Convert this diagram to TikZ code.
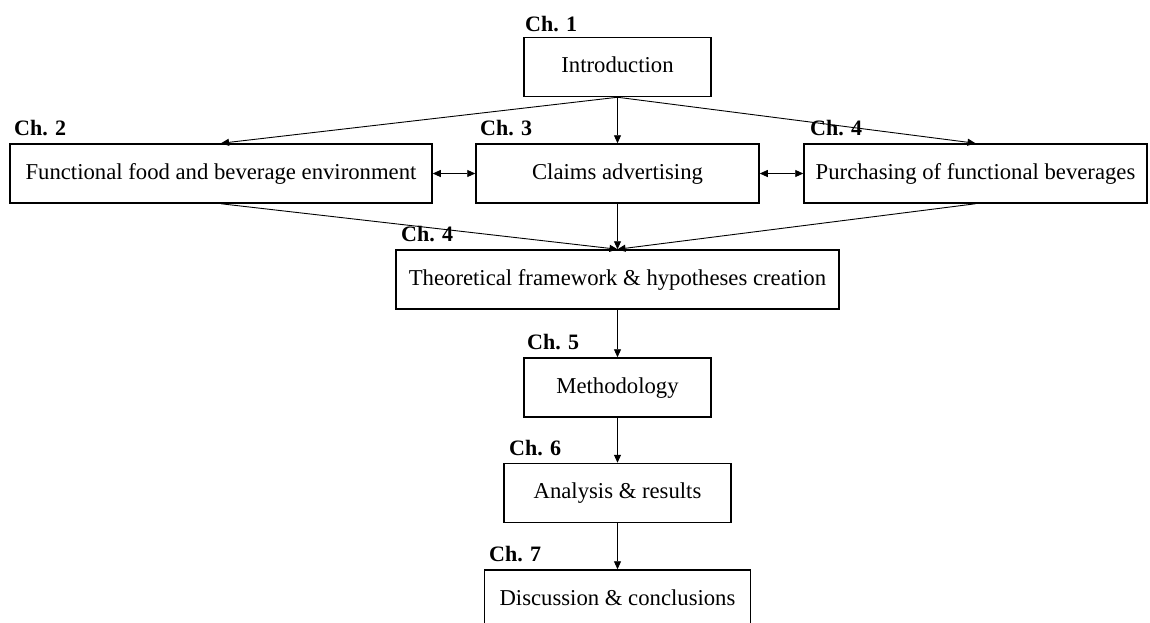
\documentclass[tikz,border=0pt]{standalone}
\usepackage{fontspec}
\setmainfont{Liberation Serif}
\usetikzlibrary{arrows.meta}
\tikzset{
  box/.style={draw=black, line width=1.5pt, fill=white, inner sep=0pt, minimum height=59pt,
    text height=16pt, text depth=5pt,
    font=\fontsize{22.7}{27}\selectfont, text=black},
  chlabel/.style={inner sep=0pt, anchor=base west, font=\fontsize{22}{26}\selectfont\bfseries},
  conn/.style={draw=black, line width=0.9pt, -{Triangle[length=8pt,width=7pt]}},
  dconn/.style={draw=black, line width=0.9pt, {Triangle[length=8pt,width=7pt]}-{Triangle[length=8pt,width=7pt]}}
}
\begin{document}
\begin{tikzpicture}[x=1pt,y=-1pt]
\useasboundingbox (0,0) rectangle (1150,622);
\clip (0,0) rectangle (1150,622);
\fill[white] (0,0) rectangle (1150,622);
% boxes
\node[box, minimum width=187pt] (intro) at (617.5,67) {Introduction};
\node[box, minimum width=422pt] (func) at (221,173.5) {Functional food and beverage environment};
\node[box, minimum width=283pt] (claims) at (617.5,173.5) {Claims advertising};
\node[box, minimum width=343pt] (purch) at (975.5,173.5) {Purchasing of functional beverages};
\node[box, minimum width=443pt] (theo) at (617.5,279.5) {Theoretical framework \& hypotheses creation};
\node[box, minimum width=187pt] (meth) at (617.5,387.5) {Methodology};
\node[box, minimum width=227pt] (anal) at (617.5,493) {Analysis \& results};
\node[box, minimum width=266pt] (disc) at (617.5,599.5) {Discussion \& conclusions};
% connectors
\draw[conn] (intro.south) -- (func.north);
\draw[conn] (intro.south) -- (claims.north);
\draw[conn] (intro.south) -- (purch.north);
\draw[conn] (func.south) -- (theo.north);
\draw[conn] (claims.south) -- (theo.north);
\draw[conn] (purch.south) -- (theo.north);
\draw[dconn] (func.east) -- (claims.west);
\draw[dconn] (claims.east) -- (purch.west);
\draw[conn] (theo.south) -- (meth.north);
\draw[conn] (meth.south) -- (anal.north);
\draw[conn] (anal.south) -- (disc.north);
% chapter labels
\node[chlabel] (c1) at (525,31) {Ch. 1};
\node[chlabel] (c2) at (14,135) {Ch. 2};
\node[chlabel] (c3) at (480,135) {Ch. 3};
\node[chlabel] (c4a) at (810,135) {Ch. 4};
\node[chlabel] (c4b) at (401,241) {Ch. 4};
\node[chlabel] (c5) at (527,349) {Ch. 5};
\node[chlabel] (c6) at (509,455) {Ch. 6};
\node[chlabel] (c7) at (489,561) {Ch. 7};
\end{tikzpicture}
\end{document}
